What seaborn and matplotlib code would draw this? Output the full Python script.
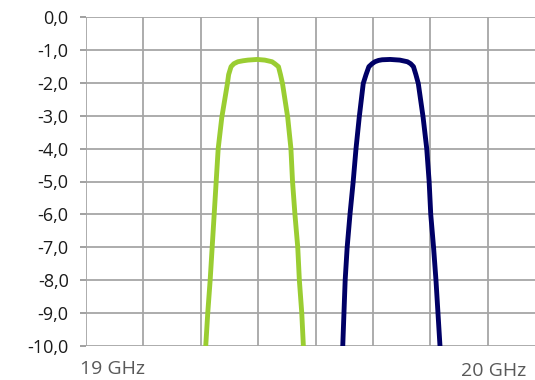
import pandas as pd
import numpy as np
import matplotlib
matplotlib.use('Agg')
import matplotlib.pyplot as plt
import seaborn as sns

# 채널 1 (녹색) : 주파수 MHz / 감쇠 dB
ch1_freq = [19298, 19303, 19309, 19314, 19319, 19324, 19329, 19338, 19352, 19355,
            19361, 19368, 19378, 19391, 19403, 19426, 19445, 19463, 19470, 19479,
            19484, 19489, 19502, 19510, 19514, 19520, 19527, 19531, 19537, 19541]
ch1_db = [-10.0, -9.0, -8.0, -7.0, -6.0, -5.0, -4.0, -3.05, -2.02, -1.75,
          -1.51, -1.42, -1.36, -1.33, -1.31, -1.29, -1.31, -1.36, -1.42, -1.51,
          -1.75, -2.02, -3.05, -4.0, -5.0, -6.0, -7.0, -8.0, -9.0, -10.0]

# 채널 2 (남색)
ch2_freq = [19639, 19642, 19645, 19650, 19657, 19665, 19672, 19680, 19690, 19697,
            19704, 19712, 19719, 19728, 19737, 19757, 19781, 19800, 19808, 19815,
            19821, 19827, 19839, 19848, 19854, 19858, 19865, 19871, 19876, 19881]
ch2_db = [-10.0, -9.0, -8.0, -7.0, -6.0, -5.0, -4.0, -3.05, -2.02, -1.75,
          -1.51, -1.42, -1.36, -1.32, -1.30, -1.29, -1.31, -1.36, -1.42, -1.51,
          -1.75, -2.02, -3.05, -4.0, -5.0, -6.0, -7.0, -8.0, -9.0, -10.0]

y_ticks = [0, -1, -2, -3, -4, -5, -6, -7, -8, -9, -10]
x_labels = ['19 GHz', '20 GHz']

df1 = pd.DataFrame({'freq': ch1_freq, 'db': ch1_db})
df2 = pd.DataFrame({'freq': ch2_freq, 'db': ch2_db})

sns.set_style('white')
plt.rcParams['font.family'] = ['Open Sans', 'DejaVu Sans']

fig = plt.figure(figsize=(5.35, 3.8), dpi=100)
ax = fig.add_axes([86 / 535, 34 / 380, 449 / 535, 329 / 380])

sns.lineplot(data=df1, x='freq', y='db', sort=False, color='#9ACD32', linewidth=3.5, ax=ax)
sns.lineplot(data=df2, x='freq', y='db', sort=False, color='#000066', linewidth=3.5, ax=ax)

step = 1000 / 7
ax.set_xlim(19000, 19000 + 449 / 57.4 * step)
ax.set_ylim(-10, 0)
ax.set_xticks([19000 + k * step for k in range(8)])
ax.set_xticklabels([])
ax.set_yticks(y_ticks)
ax.set_yticklabels([f"{v:.1f}".replace('.', ',') for v in y_ticks], fontsize=13, color='#1a1a1a')
ax.tick_params(axis='y', length=4.5, width=1.3, color='#999999', pad=8, left=True)
ax.tick_params(axis='x', length=0)
ax.grid(True, color='#a6a6a6', linewidth=1.3)
ax.set_axisbelow(True)
for s in ax.spines.values():
    s.set_visible(False)
ax.set_xlabel('')
ax.set_ylabel('')

ax.text(-0.013, -0.043, x_labels[0], transform=ax.transAxes, ha='left', va='top',
        fontsize=14, color='#595959')
ax.text(0.9076, -0.05, x_labels[1], transform=ax.transAxes, ha='center', va='top',
        fontsize=14, color='#595959')

fig.savefig('out.png', dpi=100)
